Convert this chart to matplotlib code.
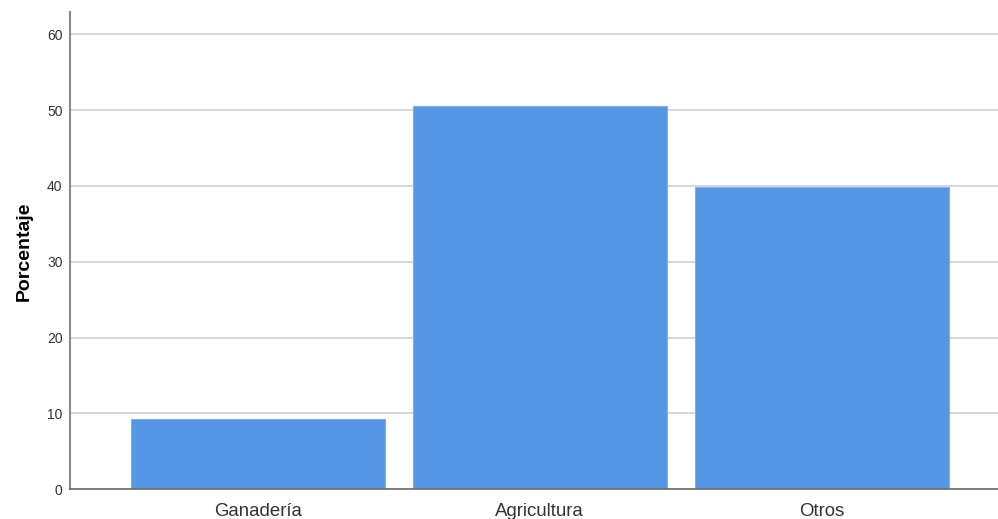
import matplotlib
matplotlib.use("Agg")
import matplotlib.pyplot as plt

# --- DATA ---
categories = ["Ganadería", "Agricultura", "Otros"]
porcentajes = [9.3, 50.6, 39.9]
yticks = [0, 10, 20, 30, 40, 50, 60]

BAR_COLOR = "#5596e5"

plt.rcParams["font.family"] = ["Liberation Sans", "DejaVu Sans"]

fig = plt.figure(figsize=(9.98, 5.19), dpi=100)
ax = fig.add_axes([69.5 / 998, (519 - 489.3) / 519, (998 - 69.5) / 998, (489.3 - 12.3) / 519])

x = list(range(len(categories)))
ax.bar(x, porcentajes, width=0.9, color=BAR_COLOR, edgecolor="#7fb0ec", linewidth=0.8, zorder=3)

ax.set_xlim(-0.667, 2.625)
ax.set_ylim(0, 62.9)
ax.set_yticks(yticks)
ax.set_xticks(x)
ax.set_xticklabels(categories, fontsize=13.4, color="#333333")
ax.tick_params(axis="x", length=0, pad=10)
ax.tick_params(axis="y", length=0, pad=5, labelsize=10, labelcolor="#333333")

ax.grid(axis="y", color="#cfcfcf", linewidth=1.2, zorder=0)
for side in ["top", "right"]:
    ax.spines[side].set_visible(False)
ax.spines["left"].set_color("#8a8a8a")
ax.spines["left"].set_linewidth(1.5)
ax.spines["bottom"].set_color("#6a6a6a")
ax.spines["bottom"].set_linewidth(1.2)
ax.spines["bottom"].set_zorder(4)

ax.set_ylabel("Porcentaje", fontsize=14, fontweight="bold", labelpad=10)

fig.savefig("out.png", dpi=100)
